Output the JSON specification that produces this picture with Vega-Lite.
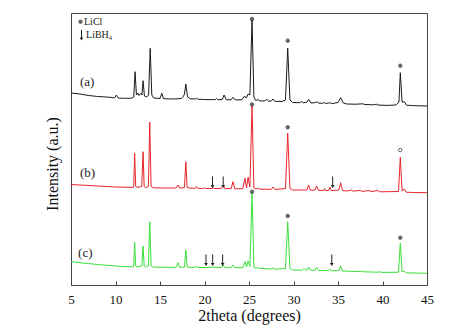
{
  "$schema": "https://vega.github.io/schema/vega-lite/v6.json",
  "width": 356,
  "height": 272,
  "autosize": "none",
  "padding": {"left": 71, "top": 13, "right": 47, "bottom": 49},
  "background": "white",
  "config": {
    "view": {"stroke": "#444", "strokeWidth": 1},
    "font": "Liberation Serif"
  },
  "datasets": {
    "lines": [
      {"s":"a","x":5,"y":192},{"s":"a","x":6,"y":191},{"s":"a","x":7,"y":189.5},{"s":"a","x":8,"y":188.5},{"s":"a","x":9,"y":188},{"s":"a","x":9.9,"y":187.2},{"s":"a","x":10.1,"y":190},{"s":"a","x":10.3,"y":187},{"s":"a","x":11,"y":186.7},{"s":"a","x":11.8,"y":186.8},{"s":"a","x":12.05,"y":188},{"s":"a","x":12.2,"y":213.3},{"s":"a","x":12.35,"y":190},{"s":"a","x":12.5,"y":192},{"s":"a","x":12.65,"y":189.5},{"s":"a","x":12.85,"y":191.5},{"s":"a","x":12.97,"y":190},{"s":"a","x":13.1,"y":204.3},{"s":"a","x":13.25,"y":189},{"s":"a","x":13.5,"y":188},{"s":"a","x":13.72,"y":190},{"s":"a","x":13.9,"y":236.7},{"s":"a","x":14.08,"y":190},{"s":"a","x":14.3,"y":187},{"s":"a","x":15.0,"y":186.5},{"s":"a","x":15.2,"y":191.7},{"s":"a","x":15.4,"y":186.3},{"s":"a","x":16.5,"y":186},{"s":"a","x":17.4,"y":186.5},{"s":"a","x":17.65,"y":189},{"s":"a","x":17.75,"y":191},{"s":"a","x":17.9,"y":201},{"s":"a","x":18.1,"y":188},{"s":"a","x":18.4,"y":186.2},{"s":"a","x":19.0,"y":186},{"s":"a","x":19.1,"y":187},{"s":"a","x":19.25,"y":185.8},{"s":"a","x":20,"y":185.5},{"s":"a","x":21.2,"y":185.3},{"s":"a","x":21.35,"y":186.5},{"s":"a","x":21.5,"y":185.2},{"s":"a","x":22.0,"y":185.5},{"s":"a","x":22.2,"y":190},{"s":"a","x":22.45,"y":185.3},{"s":"a","x":23.0,"y":185.2},{"s":"a","x":23.2,"y":187.7},{"s":"a","x":23.45,"y":185},{"s":"a","x":24.2,"y":185.3},{"s":"a","x":24.5,"y":189},{"s":"a","x":24.7,"y":187},{"s":"a","x":24.9,"y":191},{"s":"a","x":25.1,"y":190},{"s":"a","x":25.34,"y":265},{"s":"a","x":25.55,"y":188},{"s":"a","x":25.75,"y":184.5},{"s":"a","x":26.0,"y":185.5},{"s":"a","x":26.2,"y":184.2},{"s":"a","x":26.7,"y":184},{"s":"a","x":27.0,"y":185.5},{"s":"a","x":27.2,"y":183.8},{"s":"a","x":27.5,"y":184},{"s":"a","x":27.7,"y":186},{"s":"a","x":27.9,"y":183.7},{"s":"a","x":28.7,"y":183.5},{"s":"a","x":29.1,"y":185},{"s":"a","x":29.35,"y":237},{"s":"a","x":29.6,"y":185},{"s":"a","x":29.9,"y":182.5},{"s":"a","x":30.7,"y":182.3},{"s":"a","x":30.9,"y":183.5},{"s":"a","x":31.1,"y":182.2},{"s":"a","x":31.5,"y":182.8},{"s":"a","x":31.7,"y":185.7},{"s":"a","x":31.95,"y":182},{"s":"a","x":32.4,"y":182.3},{"s":"a","x":32.6,"y":183.3},{"s":"a","x":32.85,"y":181.8},{"s":"a","x":33.3,"y":181.8},{"s":"a","x":33.45,"y":182.5},{"s":"a","x":33.6,"y":181.6},{"s":"a","x":33.9,"y":181.8},{"s":"a","x":34.1,"y":182.3},{"s":"a","x":34.3,"y":181.4},{"s":"a","x":35.0,"y":182.5},{"s":"a","x":35.3,"y":187.3},{"s":"a","x":35.6,"y":182},{"s":"a","x":36.0,"y":181},{"s":"a","x":37,"y":180.8},{"s":"a","x":37.8,"y":181.2},{"s":"a","x":38,"y":180.5},{"s":"a","x":39,"y":180.2},{"s":"a","x":39.3,"y":180.8},{"s":"a","x":39.5,"y":180},{"s":"a","x":40.5,"y":179.6},{"s":"a","x":41.5,"y":180},{"s":"a","x":41.85,"y":183},{"s":"a","x":42.0,"y":212.3},{"s":"a","x":42.2,"y":183},{"s":"a","x":42.45,"y":183.3},{"s":"a","x":42.7,"y":179.8},{"s":"a","x":43.5,"y":179.3},{"s":"a","x":45,"y":179},
      {"s":"b","x":5,"y":100.5},{"s":"b","x":6,"y":100},{"s":"b","x":7,"y":99.5},{"s":"b","x":8,"y":99},{"s":"b","x":9,"y":98.5},{"s":"b","x":10,"y":98},{"s":"b","x":11,"y":97.8},{"s":"b","x":12,"y":97.6},{"s":"b","x":12.05,"y":99},{"s":"b","x":12.15,"y":131.7},{"s":"b","x":12.27,"y":99},{"s":"b","x":12.4,"y":97.5},{"s":"b","x":12.95,"y":98.5},{"s":"b","x":13.1,"y":133.3},{"s":"b","x":13.22,"y":98.5},{"s":"b","x":13.4,"y":97.3},{"s":"b","x":13.7,"y":98.5},{"s":"b","x":13.85,"y":162.7},{"s":"b","x":14.0,"y":98.5},{"s":"b","x":14.3,"y":97.2},{"s":"b","x":15.5,"y":97},{"s":"b","x":16.8,"y":97},{"s":"b","x":17.05,"y":100},{"s":"b","x":17.2,"y":96.9},{"s":"b","x":17.75,"y":97.5},{"s":"b","x":17.9,"y":123.3},{"s":"b","x":18.05,"y":97.5},{"s":"b","x":18.4,"y":96.8},{"s":"b","x":19.0,"y":96.8},{"s":"b","x":19.1,"y":98.5},{"s":"b","x":19.25,"y":96.7},{"s":"b","x":19.9,"y":96.6},{"s":"b","x":20.0,"y":97.5},{"s":"b","x":20.1,"y":96.5},{"s":"b","x":20.9,"y":96.5},{"s":"b","x":21.0,"y":97.5},{"s":"b","x":21.1,"y":96.4},{"s":"b","x":21.9,"y":96.6},{"s":"b","x":22.1,"y":100},{"s":"b","x":22.3,"y":96.3},{"s":"b","x":23.0,"y":96.4},{"s":"b","x":23.2,"y":103.3},{"s":"b","x":23.4,"y":96.2},{"s":"b","x":24.3,"y":96.4},{"s":"b","x":24.55,"y":106.7},{"s":"b","x":24.72,"y":97},{"s":"b","x":24.9,"y":107.7},{"s":"b","x":25.1,"y":98},{"s":"b","x":25.34,"y":179},{"s":"b","x":25.55,"y":97},{"s":"b","x":25.8,"y":96},{"s":"b","x":26.0,"y":97},{"s":"b","x":26.2,"y":95.9},{"s":"b","x":27.5,"y":95.7},{"s":"b","x":27.7,"y":98},{"s":"b","x":27.9,"y":95.6},{"s":"b","x":29.1,"y":96.5},{"s":"b","x":29.35,"y":151.7},{"s":"b","x":29.6,"y":96.5},{"s":"b","x":29.9,"y":95},{"s":"b","x":31.5,"y":95},{"s":"b","x":31.7,"y":100},{"s":"b","x":31.9,"y":94.8},{"s":"b","x":32.4,"y":94.9},{"s":"b","x":32.6,"y":99},{"s":"b","x":32.8,"y":94.7},{"s":"b","x":33.4,"y":94.6},{"s":"b","x":33.5,"y":96.5},{"s":"b","x":33.6,"y":94.5},{"s":"b","x":33.95,"y":94.6},{"s":"b","x":34.1,"y":98},{"s":"b","x":34.25,"y":94.4},{"s":"b","x":35.1,"y":95},{"s":"b","x":35.3,"y":102.3},{"s":"b","x":35.5,"y":94.5},{"s":"b","x":36.0,"y":94},{"s":"b","x":36.5,"y":95},{"s":"b","x":36.7,"y":93.8},{"s":"b","x":37.5,"y":94.7},{"s":"b","x":37.7,"y":93.6},{"s":"b","x":38.5,"y":94.5},{"s":"b","x":38.7,"y":93.4},{"s":"b","x":39.5,"y":94.5},{"s":"b","x":39.7,"y":93.2},{"s":"b","x":41.8,"y":93.5},{"s":"b","x":42.0,"y":127.7},{"s":"b","x":42.2,"y":94},{"s":"b","x":42.45,"y":96},{"s":"b","x":42.65,"y":92.8},{"s":"b","x":43.5,"y":92.5},{"s":"b","x":45,"y":92.3},
      {"s":"c","x":5,"y":23.3},{"s":"c","x":6,"y":22.3},{"s":"c","x":7,"y":21.4},{"s":"c","x":8,"y":20.5},{"s":"c","x":9,"y":19.7},{"s":"c","x":10,"y":19},{"s":"c","x":11,"y":18.5},{"s":"c","x":12,"y":18.1},{"s":"c","x":12.05,"y":19},{"s":"c","x":12.15,"y":42.7},{"s":"c","x":12.27,"y":19},{"s":"c","x":12.4,"y":18},{"s":"c","x":12.95,"y":19},{"s":"c","x":13.1,"y":39},{"s":"c","x":13.22,"y":19},{"s":"c","x":13.4,"y":17.9},{"s":"c","x":13.7,"y":19},{"s":"c","x":13.85,"y":63.3},{"s":"c","x":14.0,"y":19},{"s":"c","x":14.3,"y":17.8},{"s":"c","x":15.5,"y":17.7},{"s":"c","x":16.8,"y":17.7},{"s":"c","x":17.05,"y":22.3},{"s":"c","x":17.2,"y":17.6},{"s":"c","x":17.75,"y":18},{"s":"c","x":17.9,"y":35},{"s":"c","x":18.05,"y":18},{"s":"c","x":18.4,"y":17.6},{"s":"c","x":19.0,"y":17.6},{"s":"c","x":19.1,"y":19},{"s":"c","x":19.25,"y":17.5},{"s":"c","x":20.2,"y":17.5},{"s":"c","x":20.9,"y":17.8},{"s":"c","x":21.9,"y":17.5},{"s":"c","x":22.1,"y":20},{"s":"c","x":22.3,"y":17.3},{"s":"c","x":23.0,"y":17.3},{"s":"c","x":23.2,"y":20},{"s":"c","x":23.4,"y":17.2},{"s":"c","x":24.3,"y":17.4},{"s":"c","x":24.55,"y":23.3},{"s":"c","x":24.72,"y":18},{"s":"c","x":24.9,"y":24},{"s":"c","x":25.1,"y":18.5},{"s":"c","x":25.34,"y":92},{"s":"c","x":25.55,"y":17.5},{"s":"c","x":25.8,"y":16.8},{"s":"c","x":26.0,"y":17.5},{"s":"c","x":26.2,"y":16.6},{"s":"c","x":27.5,"y":16},{"s":"c","x":27.7,"y":17},{"s":"c","x":27.9,"y":15.8},{"s":"c","x":29.1,"y":16.5},{"s":"c","x":29.35,"y":63.3},{"s":"c","x":29.6,"y":16.5},{"s":"c","x":29.9,"y":15},{"s":"c","x":31.0,"y":14.8},{"s":"c","x":31.2,"y":16.5},{"s":"c","x":31.4,"y":14.8},{"s":"c","x":31.5,"y":14.9},{"s":"c","x":31.7,"y":18},{"s":"c","x":31.9,"y":14.8},{"s":"c","x":32.4,"y":14.7},{"s":"c","x":32.6,"y":17.5},{"s":"c","x":32.8,"y":14.5},{"s":"c","x":33.95,"y":14.4},{"s":"c","x":34.1,"y":16},{"s":"c","x":34.25,"y":14.2},{"s":"c","x":35.1,"y":14.5},{"s":"c","x":35.3,"y":19},{"s":"c","x":35.5,"y":14},{"s":"c","x":37.5,"y":13.4},{"s":"c","x":37.7,"y":14},{"s":"c","x":37.9,"y":13.2},{"s":"c","x":39.5,"y":12.8},{"s":"c","x":39.7,"y":13.4},{"s":"c","x":39.9,"y":12.6},{"s":"c","x":41.8,"y":12.8},{"s":"c","x":42.0,"y":41.7},{"s":"c","x":42.2,"y":13.2},{"s":"c","x":42.45,"y":14},{"s":"c","x":42.65,"y":12.2},{"s":"c","x":43.5,"y":12},{"s":"c","x":45,"y":11.7}
    ],
    "stars": [
      {"x":25.34,"y":266,"f":"y"},{"x":29.35,"y":244.3,"f":"y"},{"x":42.0,"y":219.3,"f":"y"},
      {"x":25.34,"y":180.5,"f":"y"},{"x":29.35,"y":157.7,"f":"y"},{"x":42.0,"y":135,"f":"n"},
      {"x":25.34,"y":93.3,"f":"y"},{"x":29.35,"y":69,"f":"y"},{"x":42.0,"y":47.3,"f":"y"},
      {"x":6.07,"y":263.3,"f":"y"}
    ],
    "arrows": [
      {"x":20.9,"top":108.5,"bot":98.5},{"x":22.1,"top":108.5,"bot":98.5},{"x":34.4,"top":108.5,"bot":98.5},
      {"x":20.17,"top":30.5,"bot":20.5},{"x":20.92,"top":30.5,"bot":20.5},{"x":22.04,"top":30.5,"bot":20.5},{"x":34.3,"top":30.5,"bot":20.5},
      {"x":6.18,"top":255,"bot":246}
    ],
    "labels": [
      {"x":6.01,"y":203,"t":"(a)","z":13},
      {"x":6.01,"y":112.3,"t":"(b)","z":13},
      {"x":5.8,"y":32.3,"t":"(c)","z":13},
      {"x":6.46,"y":263.5,"t":"LiCl","z":10},
      {"x":6.69,"y":250,"t":"LiBH₄","z":10}
    ]
  },
  "layer": [
    {
      "data": {"name": "lines"},
      "mark": {"type": "line", "strokeWidth": 1, "interpolate": "linear"},
      "encoding": {
        "x": {
          "field": "x", "type": "quantitative",
          "scale": {"domain": [5, 45], "nice": false, "zero": false},
          "axis": {
            "title": "2theta (degrees)",
            "values": [5,7.5,10,12.5,15,17.5,20,22.5,25,27.5,30,32.5,35,37.5,40,42.5,45],
            "labelExpr": "datum.value % 5 == 0 ? datum.label : ''",
            "grid": false, "tickSize": -4, "tickColor": "#444", "domainColor": "#444",
            "labelPadding": 12, "labelFontSize": 13, "labelFont": "Liberation Serif", "labelColor": "#111",
            "labelFlush": false, "labelOverlap": false,
            "titleFontSize": 16, "titleFont": "Liberation Serif", "titleFontWeight": "normal", "titleColor": "#111", "titlePadding": 1
          }
        },
        "y": {
          "field": "y", "type": "quantitative",
          "scale": {"domain": [0, 272], "nice": false, "zero": false},
          "axis": {
            "title": "Intensity (a.u.)", "labels": false, "ticks": false, "grid": false, "domainColor": "#444",
            "titleFontSize": 16, "titleFont": "Liberation Serif", "titleFontWeight": "normal", "titleColor": "#111",
            "titleX": -19, "titleY": 150.5, "titleBaseline": "middle", "titleAlign": "center", "titleAngle": -90
          }
        },
        "color": {
          "field": "s", "type": "nominal",
          "scale": {"domain": ["a", "b", "c"], "range": ["#1a1a1a", "#e8252b", "#3ae03a"]},
          "legend": null
        }
      }
    },
    {
      "data": {"name": "stars"},
      "mark": {"type": "point", "shape": "circle", "size": 12, "strokeWidth": 1, "stroke": "#222"},
      "encoding": {
        "x": {"field": "x", "type": "quantitative"},
        "y": {"field": "y", "type": "quantitative"},
        "fill": {"field": "f", "type": "nominal", "scale": {"domain": ["y", "n"], "range": ["#222", "#ffffff"]}, "legend": null}
      }
    },
    {
      "data": {"name": "arrows"},
      "mark": {"type": "rule", "strokeWidth": 1, "color": "#222"},
      "encoding": {
        "x": {"field": "x", "type": "quantitative"},
        "y": {"field": "top", "type": "quantitative"},
        "y2": {"field": "bot"}
      }
    },
    {
      "data": {"name": "arrows"},
      "mark": {"type": "point", "shape": "triangle-down", "filled": true, "size": 14, "color": "#222", "opacity": 1},
      "encoding": {
        "x": {"field": "x", "type": "quantitative"},
        "y": {"field": "bot", "type": "quantitative"}
      }
    },
    {
      "data": {"name": "labels"},
      "mark": {"type": "text", "font": "Liberation Serif", "baseline": "middle", "align": "left", "color": "#222"},
      "encoding": {
        "x": {"field": "x", "type": "quantitative"},
        "y": {"field": "y", "type": "quantitative"},
        "text": {"field": "t"},
        "size": {"field": "z", "type": "quantitative", "scale": null}
      }
    }
  ]
}
